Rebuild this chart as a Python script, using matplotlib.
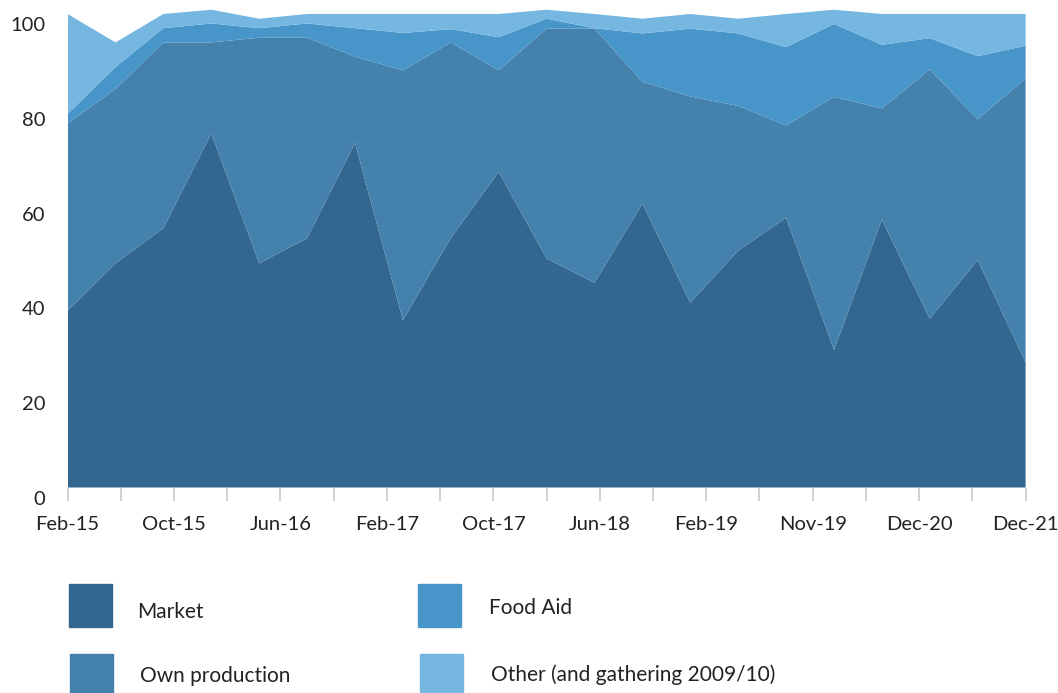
import numpy as np
import matplotlib.pyplot as plt
from matplotlib.patches import Rectangle
from matplotlib.transforms import ScaledTranslation

plt.rcParams['font.family'] = ['Lato', 'DejaVu Sans']

# shares per survey round (%)
market = [37.3, 47.3, 54.7, 74.7, 47.3, 52.6, 72.7, 35.3, 52.6, 66.6, 48.3,
          43.2, 59.9, 39.0, 50.0, 56.9, 29.0, 56.5, 35.6, 48.0, 26.4]
own_production = [39.5, 36.8, 39.2, 19.2, 47.6, 42.3, 18.2, 52.7, 41.3, 21.4, 48.5,
                  53.6, 25.7, 43.5, 30.5, 19.5, 53.4, 23.5, 52.6, 29.7, 59.9]
food_aid = [2.0, 4.6, 3.0, 4.0, 2.0, 3.0, 6.0, 7.9, 2.8, 7.0, 2.1,
            0.1, 10.2, 14.3, 15.3, 16.5, 15.4, 13.4, 6.6, 13.3, 6.9]
other = [21.1, 5.2, 3.0, 2.9, 2.0, 2.0, 3.0, 4.0, 3.2, 4.9, 1.9,
         3.0, 3.1, 3.1, 3.1, 7.0, 3.0, 6.5, 5.1, 8.9, 6.7]

tick_labels = ['Feb-15', '', 'Oct-15', '', 'Jun-16', '', 'Feb-17', '', 'Oct-17', '',
               'Jun-18', '', 'Feb-19', '', 'Nov-19', '', 'Dec-20', '', 'Dec-21']
y_ticks = [0, 20, 40, 60, 80, 100]

names = ['Market', 'Own production', 'Food Aid', 'Other (and gathering 2009/10)']
colors = ['#33678f', '#4481ac', '#4895c9', '#75b7e1']

W, H = 1058, 693
fig = plt.figure(figsize=(W / 100, H / 100), dpi=100)
ax = fig.add_axes([67.6 / W, 1 - 487.5 / H, 958 / W, 487.5 / H])

x = np.arange(len(market))
ax.stackplot(x, market, own_production, food_aid, other, colors=colors, linewidth=0)

ax.set_xlim(0, len(market) - 1)
ax.set_ylim(0, 102.85)
ax.set_xticks(np.linspace(0, len(market) - 1, len(tick_labels)))
ax.set_xticklabels(tick_labels)
ax.set_yticks(y_ticks)
ax.set_yticklabels([str(v) for v in y_ticks])

ax.tick_params(axis='x', direction='out', length=9.5, width=1.2, color='#c8c8c8',
               pad=11, labelsize=14.5, labelcolor='#222222')
ax.tick_params(axis='y', length=0, pad=16, labelsize=14.5, labelcolor='#222222')
for s in ax.spines.values():
    s.set_visible(False)

# y labels sit a little below their values in the original
shift = ScaledTranslation(0, -0.105, fig.dpi_scale_trans)
for lab in ax.get_yticklabels():
    lab.set_transform(lab.get_transform() + shift)

# legend drawn by hand, 2x2 grid
legend_pos = [(69, 584, 137, 618), (70, 654, 140, 682),
              (418, 584, 489, 614), (420, 654, 491, 681)]
for name, col, (bx, by, tx, ty) in zip(names, colors, legend_pos):
    fig.add_artist(Rectangle((bx / W, 1 - (by + 43) / H), 43 / W, 43 / H,
                             transform=fig.transFigure, color=col))
    fig.text(tx / W, 1 - ty / H, name, fontsize=15, color='#222222',
             ha='left', va='baseline')

fig.savefig('out.png', dpi=100)
